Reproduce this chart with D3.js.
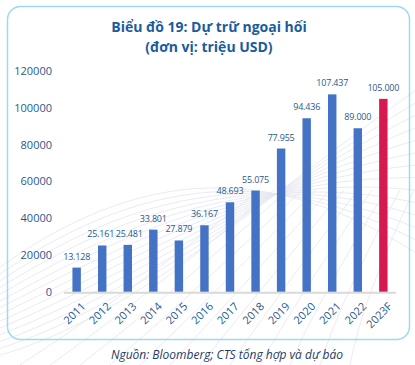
<!DOCTYPE html>
<html>
<head>
<meta charset="utf-8">
<script src="https://cdn.jsdelivr.net/npm/d3@7"></script>
<style>
  body { margin: 0; background: #fff; }
  svg { display: block; font-family: "Open Sans", sans-serif; }
</style>
</head>
<body>
<div id="chart"></div>
<script>
// data
var years = ["2011", "2012", "2013", "2014", "2015", "2016", "2017", "2018", "2019", "2020", "2021", "2022", "2023F"];
var reserves = [13128, 25161, 25481, 33801, 27879, 36167, 48693, 55075, 77955, 94436, 107437, 89000, 105000];
var valueLabels = ["13.128", "25.161", "25.481", "33.801", "27.879", "36.167", "48.693", "55.075", "77.955", "94.436", "107.437", "89.000", "105.000"];
var labelNudge = [0, -1.5, 1.5, 0, 0, 0, 0, 0, 0, 0, 0, 0, 0];
var yTicks = [0, 20000, 40000, 60000, 80000, 100000, 120000];

var W = 415, H = 365;
var svg = d3.select("#chart").append("svg")
  .attr("width", W).attr("height", H);

// faint background mesh
var mesh = svg.append("g").attr("fill", "none").attr("stroke", "#e4e4f0").attr("stroke-width", 0.8);
for (var i = 0; i < 14; i++) {
  mesh.append("path")
    .attr("d", "M" + (-20) + "," + (360 - i * 6) + " C 120," + (330 - i * 12) + " 260," + (200 - i * 4) + " 430," + (80 + i * 14));
}
for (var j = 0; j < 12; j++) {
  mesh.append("path")
    .attr("d", "M" + (20 + j * 30) + ",365 Q " + (120 + j * 22) + ",300 " + (260 + j * 14) + ",190");
}

// frame
svg.append("rect")
  .attr("x", 7.5).attr("y", 6.5).attr("width", 402).attr("height", 333)
  .attr("rx", 13).attr("fill", "none")
  .attr("stroke", "#9fd8f2").attr("stroke-width", 1.5);

// title
var title = svg.append("text").attr("text-anchor", "middle")
  .attr("fill", "#1a5c9e").style("font-weight", "bold").style("font-size", "14px");
title.append("tspan").attr("x", 209).attr("y", 32).text("Biểu đồ 19: Dự trữ ngoại hối");
title.append("tspan").attr("x", 209).attr("y", 52).text("(đơn vị: triệu USD)");

var x = d3.scaleBand().domain(years).range([64, 396]).paddingInner(0.67).paddingOuter(0.33);
var y = d3.scaleLinear().domain([0, 120000]).range([291.7, 71.3]);

// y axis labels
svg.append("g").selectAll("text").data(yTicks).join("text")
  .attr("x", 52).attr("y", function(d) { return y(d); })
  .attr("dy", "0.35em").attr("text-anchor", "end")
  .attr("fill", "#1f5a8c").style("font-size", "11px")
  .text(function(d) { return d; });

// baseline
svg.append("line")
  .attr("x1", 64).attr("x2", 396).attr("y1", y(0) + 1).attr("y2", y(0) + 1)
  .attr("stroke", "#d9d9d9").attr("stroke-width", 2);

// bars
svg.append("g").selectAll("rect").data(reserves).join("rect")
  .attr("x", function(d, i) { return x(years[i]); })
  .attr("y", function(d) { return y(d); })
  .attr("width", x.bandwidth())
  .attr("height", function(d) { return y(0) - y(d); })
  .attr("fill", function(d, i) { return i === years.length - 1 ? "#d61a4f" : "#4472c4"; });

// value labels
svg.append("g").selectAll("text").data(reserves).join("text")
  .attr("x", function(d, i) { return x(years[i]) + x.bandwidth() / 2 + labelNudge[i]; })
  .attr("y", function(d) { return y(d) - 8; })
  .attr("text-anchor", "middle")
  .attr("fill", "#1f5a8c").style("font-size", "9px").style("letter-spacing", "-0.2px")
  .text(function(d, i) { return valueLabels[i]; });

// x axis labels
svg.append("g").selectAll("text").data(years).join("text")
  .attr("transform", function(d) {
    return "translate(" + (x(d) + x.bandwidth() / 2 + 4) + "," + (y(0) + 10) + ") rotate(-45)";
  })
  .attr("text-anchor", "end").attr("dy", "0.7em")
  .attr("fill", "#1f5a8c").style("font-size", "11px")
  .text(function(d) { return d; });

// source
svg.append("text")
  .attr("x", 227).attr("y", 359).attr("text-anchor", "middle")
  .attr("fill", "#1f3a64").style("font-size", "12px").style("font-style", "italic")
  .text("Nguồn: Bloomberg; CTS tổng hợp và dự báo");
</script>
</body>
</html>
